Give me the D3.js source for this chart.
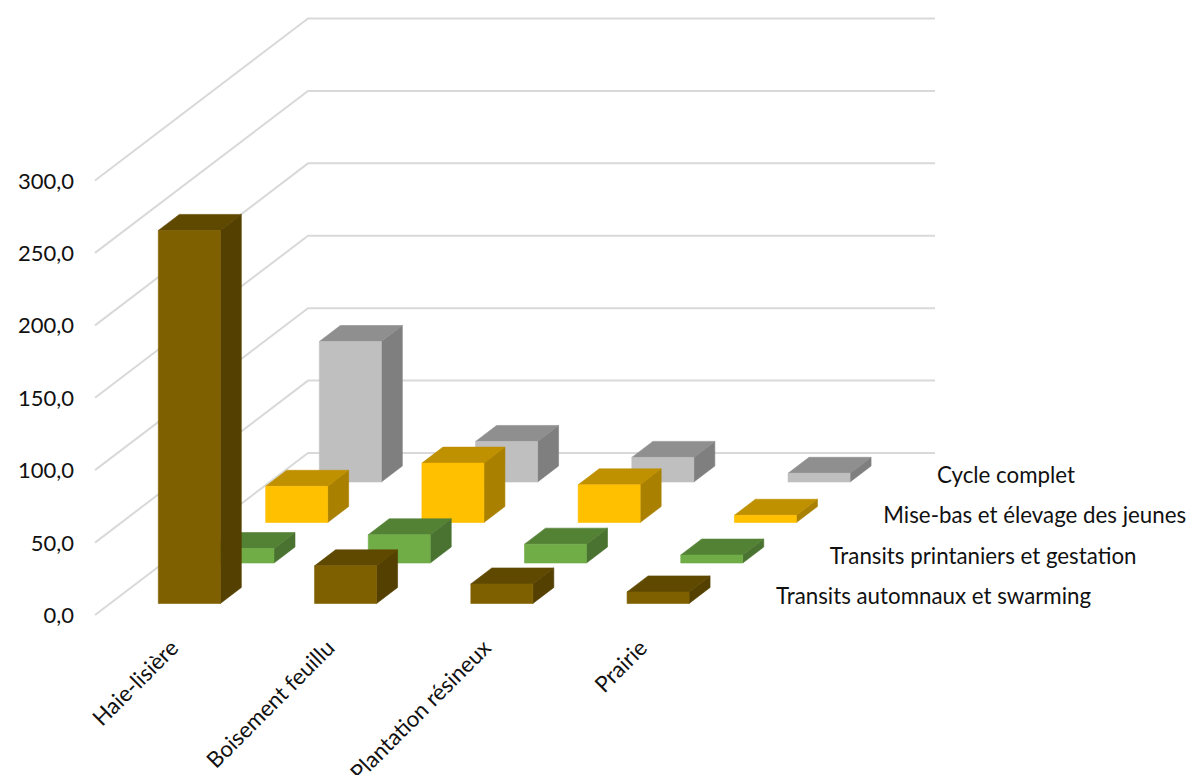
<!DOCTYPE html>
<html><head><meta charset="utf-8">
<script src="https://cdn.jsdelivr.net/npm/d3@7"></script>
<style>html,body{margin:0;padding:0;background:#fff;overflow:hidden}svg{display:block}text{font-family:Lato,"Open Sans",sans-serif;fill:#111}</style>
</head><body><svg id="c" width="1189" height="775"></svg>
<script>
const categories = ["Haie-lisière","Boisement feuillu","Plantation résineux","Prairie"];
const seriesNames = ["Transits automnaux et swarming","Transits printaniers et gestation","Mise-bas et élevage des jeunes","Cycle complet"];
const automnaux = [257.6,26,13.5,8];
const printaniers = [10,19.5,13,5.5];
const miseBas = [25,41,26,5];
const cycle = [97,28,17,6];
const yTicks = [0,50,100,150,200,250,300];
const values = [automnaux,printaniers,miseBas,cycle];
const front = ["#7F6000","#70AD47","#FFC000","#BFBFBF"];
const top_ = ["#5F4800","#548235","#BF9000","#8F8F8F"];
const side = ["#544000","#4A7230","#A98000","#7F7F7F"];

const svg = d3.select("#c");
const fmt = v => v.toFixed(1).replace(".",",");
const y = d3.scaleLinear().domain([0,300]).range([615,180.5]);
const x = d3.scaleBand().domain(categories).range([111.2,736.2]);
const depthX = d3.scalePoint().domain(seriesNames).range([0,161]);
const depthY = d3.scalePoint().domain(seriesNames).range([0,-121.5]);
const barW = 62, dx = 21, dy = -16, baseOff = -11.5;
const wallX = 213, wallY = -162, wallW = 627;

const grid = svg.append("g").attr("fill","none").attr("stroke","#D9D9D9").attr("stroke-width",2);
yTicks.forEach(t=>{
  grid.append("path").attr("d",d3.line()([[95,y(t)],[95+wallX,y(t)+wallY],[95+wallX+wallW,y(t)+wallY]]));
});
svg.append("g").selectAll("text").data(yTicks).join("text")
  .attr("x",74).attr("y",t=>y(t)+8).attr("text-anchor","end").attr("font-size",22).text(fmt);

const marks = svg.append("g");
d3.range(3,-1,-1).forEach(s=>{
  const name = seriesNames[s];
  const g = marks.append("g");
  categories.forEach((c,i)=>{
    const x0 = x(c)+ (x.bandwidth()-barW)/2 + depthX(name);
    const x1 = x0+barW;
    const yb = y(0)+baseOff+depthY(name);
    const yt = yb-(y(0)-y(values[s][i]));
    const poly=(pts,col)=>g.append("polygon").attr("points",pts.map(p=>p.join(",")).join(" ")).attr("fill",col).attr("stroke",col).attr("stroke-width",.6);
    poly([[x1,yb],[x1+dx,yb+dy],[x1+dx,yt+dy],[x1,yt]],side[s]);
    poly([[x0,yt],[x1,yt],[x1+dx,yt+dy],[x0+dx,yt+dy]],top_[s]);
    poly([[x0,yb],[x1,yb],[x1,yt],[x0,yt]],front[s]);
  });
});

svg.append("g").selectAll("text").data(seriesNames).join("text")
  .attr("x",n=>776+depthX(n)).attr("y",n=>604+depthY(n)).attr("font-size",22.3).text(n=>n);

svg.append("g").selectAll("text").data(categories).join("text")
  .attr("text-anchor","end").attr("font-size",22.3)
  .attr("transform",c=>`translate(${x(c)+x.bandwidth()/2-9.5},${649.5}) rotate(-45)`).text(c=>c);
</script></body></html>
